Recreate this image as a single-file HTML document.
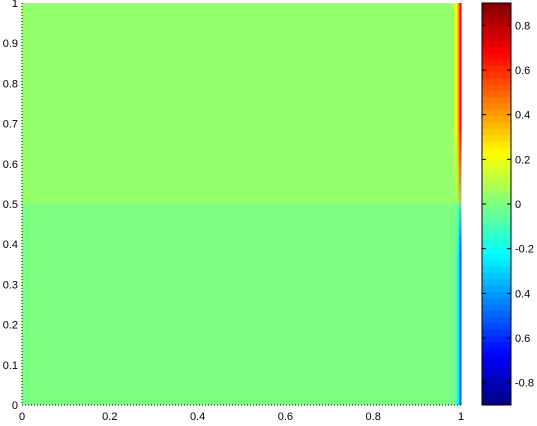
<!DOCTYPE html>
<html><head><meta charset="utf-8"><style>
body{margin:0;background:#fff;width:537px;height:426px;overflow:hidden}
svg{display:block;font-family:"Liberation Sans",sans-serif;font-size:11px}
</style></head><body>
<svg id="c" width="537" height="426">
<defs>
<linearGradient id="gu" x1="0" y1="0" x2="0" y2="1"><stop offset="0" stop-color="#fff"/><stop offset="0.6" stop-color="#fff"/><stop offset="1" stop-color="#333"/></linearGradient>
<linearGradient id="gl" x1="0" y1="0" x2="0" y2="1"><stop offset="0" stop-color="#444"/><stop offset="0.25" stop-color="#fff"/><stop offset="1" stop-color="#fff"/></linearGradient>
<mask id="mu" maskContentUnits="objectBoundingBox"><rect width="1" height="1" fill="url(#gu)"/></mask>
<mask id="ml" maskContentUnits="objectBoundingBox"><rect width="1" height="1" fill="url(#gl)"/></mask>
</defs>
</svg>
<script>
const xTicks=[0,0.2,0.4,0.6,0.8,1];
const xTickLabels=["0","0.2","0.4","0.6","0.8","1"];
const yTicks=[0,0.1,0.2,0.3,0.4,0.5,0.6,0.7,0.8,0.9,1];
const yTickLabels=["0","0.1","0.2","0.3","0.4","0.5","0.6","0.7","0.8","0.9","1"];
const cbTicks=[0.8,0.6,0.4,0.2,0,-0.2,-0.4,-0.6,-0.8];
const cbTickLabels=["0.8","0.6","0.4","0.2","0","-0.2","0.4","0.6","-0.8"];
const upperValue=0.035, lowerValue=-0.005;
const upperEdgeX=[0.9772,0.9818,0.9863,0.9909,0.9932,0.9954,0.9977];
const upperEdge=[0.07,0.12,0.2,0.3,0.42,0.55,0.68];
const lowerEdgeX=[0.9795,0.9863,0.9909,0.9932,0.9954,0.9977];
const lowerEdge=[-0.03,-0.08,-0.15,-0.25,-0.4,-0.52];
const cmin=-0.9,cmax=0.9;
const NS="http://www.w3.org/2000/svg";
const svg=document.getElementById('c');
const L=22,R=461,T=3,B=405;
const sx=v=>L+(R-L)*v, sy=v=>B-(B-T)*v;
const CL=482,CR=511, cy=v=>T+(B-T)*(cmax-v)/(cmax-cmin);
function jet(v){let t=(v-cmin)/(cmax-cmin);const c=x=>Math.round(255*Math.max(0,Math.min(1,1.5-Math.abs(x))));
return `rgb(${c(4*t-3)},${c(4*t-2)},${c(4*t-1)})`;}
function el(tag,a,p){const e=document.createElementNS(NS,tag);for(const k in a)e.setAttribute(k,a[k]);(p||svg).appendChild(e);return e;}
let r=el('rect',{x:L,y:sy(1),width:R-L,height:sy(0.5)-sy(1),fill:jet(upperValue)});

r=el('rect',{x:L,y:sy(0.5),width:R-L,height:sy(0)-sy(0.5),fill:jet(lowerValue)});

const gu=el('g',{mask:'url(#mu)'});
const gl=el('g',{mask:'url(#ml)'});
upperEdgeX.forEach((x,i)=>{const x2=i<upperEdgeX.length-1?upperEdgeX[i+1]:1;
 let a=el('rect',{x:sx(x),y:sy(1),width:sx(x2)-sx(x)+0.5,height:sy(0.5)-sy(1),fill:jet(upperEdge[i])},gu);
 });
lowerEdgeX.forEach((x,i)=>{const x2=i<lowerEdgeX.length-1?lowerEdgeX[i+1]:1;
 let b=el('rect',{x:sx(x),y:sy(0.5),width:sx(x2)-sx(x)+0.5,height:sy(0)-sy(0.5),fill:jet(lowerEdge[i])},gl);
 });
let ax=el('path',{d:`M${L},${T}V${B}H${R}`,fill:'none',stroke:'#000','stroke-dasharray':'1,2'});

xTicks.forEach((v,i)=>{let t=el('text',{x:sx(v),y:B+15,'text-anchor':'middle'});t.textContent=xTickLabels[i];
 });
yTicks.forEach((v,i)=>{let t=el('text',{x:L-4,y:sy(v)+4,'text-anchor':'end'});t.textContent=yTickLabels[i];
 });
const N=64;for(let i=0;i<N;i++){const v0=cmax-(cmax-cmin)*i/N,v1=cmax-(cmax-cmin)*(i+1)/N;
 let b=el('rect',{x:CL,y:cy(v0),width:CR-CL,height:cy(v1)-cy(v0)+0.5,fill:jet((v0+v1)/2)});
 }
let cb=el('rect',{x:CL,y:T,width:CR-CL,height:B-T,fill:'none',stroke:'#000','stroke-width':1});

cbTicks.forEach((v,i)=>{let k=el('path',{d:`M${CL},${cy(v)}h4M${CR},${cy(v)}h-4`,stroke:'#000'});
 
 let t=el('text',{x:CR+4,y:cy(v)+4});t.textContent=cbTickLabels[i];
 });
</script>
</body></html>
